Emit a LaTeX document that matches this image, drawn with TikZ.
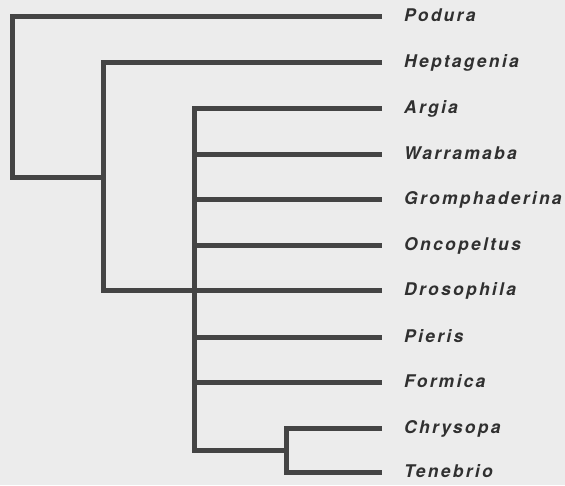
\documentclass[tikz,border=0pt]{standalone}
\usepackage{fontspec}
\usepackage{xcolor}
\usepackage{tikz}
\usetikzlibrary{positioning}
\newfontfamily\taxonfont[LetterSpace=13]{TeX Gyre Heros}
\definecolor{paper}{RGB}{236,236,236}
\definecolor{branchgray}{RGB}{68,68,68}
\definecolor{inkgray}{RGB}{48,48,48}

\begin{document}
\begin{tikzpicture}[
    x=1pt, y=-1pt,
    taxon/.style={anchor=west, inner xsep=22pt, inner ysep=0pt, text height=0.72em+3pt, text depth=0pt,
        font=\taxonfont\bfseries\itshape\fontsize{17.5}{20}\selectfont, text=inkgray},
    branch/.style={draw=branchgray, line width=5pt, line join=miter},
]
    \fill[paper] (0,0) rectangle (565,485);
    \useasboundingbox (0,0) rectangle (565,485);
    % taxa
    \node[taxon] (podura) at (382,16) {Podura};
    \node[taxon] (heptagenia) at (382,62) {Heptagenia};
    \node[taxon] (argia) at (382,108) {Argia};
    \node[taxon] (warramaba) at (382,154) {Warramaba};
    \node[taxon] (gromphaderina) at (382,199) {Gromphaderina};
    \node[taxon] (oncopeltus) at (382,245) {Oncopeltus};
    \node[taxon] (drosophila) at (382,290) {Drosophila};
    \node[taxon] (pieris) at (382,337) {Pieris};
    \node[taxon] (formica) at (382,382) {Formica};
    \node[taxon] (chrysopa) at (382,428) {Chrysopa};
    \node[taxon] (tenebrio) at (382,472.5) {Tenebrio};
    % internal nodes
    \coordinate (n0) at (12,177);
    \coordinate (n1) at (103.5,177);
    \coordinate (n2) at (194.5,290);
    \coordinate (n3) at (286.5,450.5);
    % branches
    \draw[branch] (podura.west) -| (n0) -- (n1);
    \draw[branch] (heptagenia.west) -| (n1) |- (drosophila.west);
    \draw[branch] (argia.west) -| (n2) |- (n3);
    \draw[branch] (n2 |- warramaba) -- (warramaba.west);
    \draw[branch] (n2 |- gromphaderina) -- (gromphaderina.west);
    \draw[branch] (n2 |- oncopeltus) -- (oncopeltus.west);
    \draw[branch] (n2 |- pieris) -- (pieris.west);
    \draw[branch] (n2 |- formica) -- (formica.west);
    \draw[branch] (chrysopa.west) -| (n3) |- (tenebrio.west);
\end{tikzpicture}
\end{document}
